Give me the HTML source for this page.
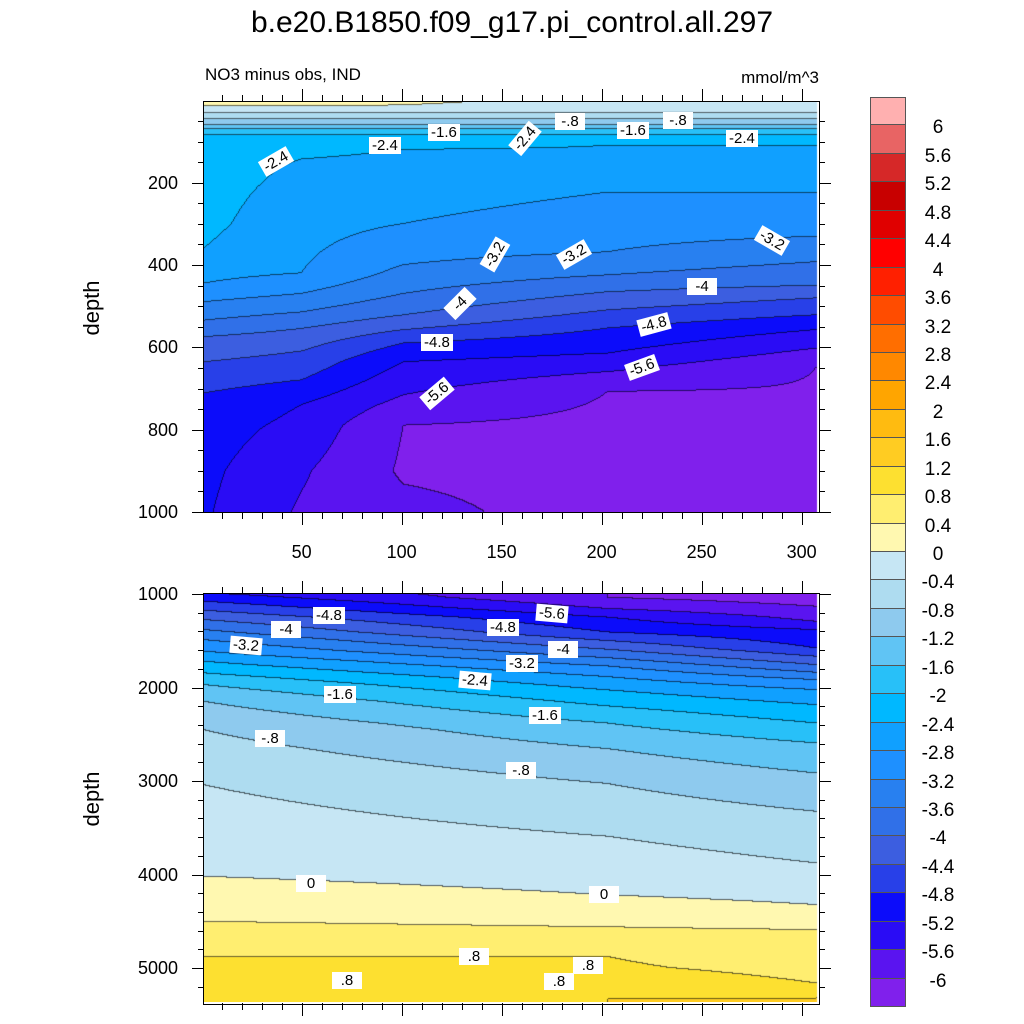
<!DOCTYPE html>
<html><head><meta charset="utf-8">
<style>
html,body{margin:0;padding:0;background:#fff;}
body{width:1024px;height:1024px;position:relative;overflow:hidden;font-family:"Liberation Sans",sans-serif;color:#000;}
.abs{position:absolute;}
.lbl{position:absolute;background:#fff;font-size:15px;line-height:17px;padding:0 3px;white-space:nowrap;transform-origin:center;}
.tick{position:absolute;background:#000;}
.tl{position:absolute;font-size:18px;line-height:18px;white-space:nowrap;}
canvas{position:absolute;}
</style></head>
<body>
<div class="abs" style="left:0;width:1024px;top:6px;text-align:center;font-size:30px;">b.e20.B1850.f09_g17.pi_control.all.297</div>
<div class="abs" style="left:205px;top:65px;font-size:17px;">NO3 minus obs, IND</div>
<div class="abs" style="left:700px;width:119px;text-align:right;top:68px;font-size:17px;">mmol/m^3</div>
<div class="abs" style="left:52px;top:295px;width:80px;text-align:center;font-size:22px;transform:rotate(-90deg);">depth</div>
<div class="abs" style="left:52px;top:786px;width:80px;text-align:center;font-size:22px;transform:rotate(-90deg);">depth</div>

<canvas id="cvTop" width="615" height="410" style="left:204px;top:102px;"></canvas>
<canvas id="cvBot" width="615" height="408" style="left:204px;top:594px;"></canvas>
<div class="abs" style="left:203px;top:101px;width:615px;height:410px;border:1px solid #000;"></div>
<div class="abs" style="left:203px;top:593px;width:615px;height:410px;border:1px solid #000;"></div>
<div id="axes"></div>
<div id="labels"></div>
<div id="cbar"></div>

<script>
// ---- data ----
var levels = [-6,-5.6,-5.2,-4.8,-4.4,-4,-3.6,-3.2,-2.8,-2.4,-2,-1.6,-1.2,-0.8,-0.4,0,0.4,0.8,1.2,1.6,2,2.4,2.8,3.2,3.6,4,4.4,4.8,5.2,5.6,6];
var levelLabels = ["-6","-5.6","-5.2","-4.8","-4.4","-4","-3.6","-3.2","-2.8","-2.4","-2","-1.6","-1.2","-0.8","-0.4","0","0.4","0.8","1.2","1.6","2","2.4","2.8","3.2","3.6","4","4.4","4.8","5.2","5.6","6"];
var fillColors = ["#8020ec","#5a14f0","#2a0cf5","#0c0cfa","#2840e8","#3c5ee0","#3070e8","#2880f0","#1e90ff","#10a0ff","#00b8ff","#28c0f8","#60c4f4","#8ecaee","#aedcf0","#c6e6f4","#fff8b0","#ffee70","#fde030","#ffcc22","#ffbb10","#ffa500","#ff8800","#ff6e00","#ff4c00","#ff2000","#ff0000","#e00000","#c80000","#d62828","#e86464","#ffb0b0"];

var topCols = [1, 50, 101, 203, 307];
var topDepths = [
 [4,14,30,45,60,70,85,110,160,224,300,360,445,490,535,575,636,712,800,900,1000],
 [4,14,30,45,60,70,85,110,160,224,300,420,470,515,555,610,680,740,800,900,1000],
 [4,12,30,45,60,70,85,120,300,400,470,522,558,590,636,716,790,900,1000],
 [3,30,45,60,70,85,110,224,369,425,466,510,554,615,660,708,800,1000],
 [3,30,45,60,70,85,110,224,331,393,450,481,522,558,603,651,800,1000]
];
var topValues = [
 [0.3,0,-0.4,-0.8,-1.2,-1.6,-2.0,-2.1,-2.2,-2.25,-2.3,-2.4,-2.8,-3.2,-3.6,-4.0,-4.4,-4.8,-5.0,-5.1,-5.15],
 [0.3,0,-0.4,-0.8,-1.2,-1.6,-2.0,-2.3,-2.45,-2.55,-2.65,-2.8,-3.2,-3.6,-4.0,-4.4,-4.8,-5.2,-5.35,-5.55,-5.65],
 [0.1,0,-0.4,-0.8,-1.2,-1.6,-2.0,-2.4,-2.8,-3.2,-3.6,-4.0,-4.4,-4.8,-5.2,-5.6,-6.0,-6.05,-5.9],
 [-0.2,-0.4,-0.8,-1.2,-1.6,-2.0,-2.4,-2.8,-3.2,-3.6,-4.0,-4.4,-4.8,-5.2,-5.6,-6.0,-6.1,-6.15],
 [-0.2,-0.4,-0.8,-1.2,-1.6,-2.0,-2.4,-2.8,-3.2,-3.6,-4.0,-4.4,-4.8,-5.2,-5.6,-6.0,-6.1,-6.15]
];

var botCols = [1, 203, 307];
var botDepths = [
 [993,1082,1178,1278,1385,1492,1617,1724,1848,1973,2152,2455,3043,4023,4505,4879,5360,5400],
 [1040,1160,1252,1411,1503,1595,1686,1774,1888,2030,2201,2385,2658,3031,3595,4223,4564,4879,5000,5336],
 [1000,1135,1296,1385,1581,1670,1759,1841,1920,2027,2187,2383,2597,2918,3328,3880,4326,4594,5164,5324]
];
var botValues = [
 [-5.2,-4.8,-4.4,-4.0,-3.6,-3.2,-2.8,-2.4,-2.0,-1.6,-1.2,-0.8,-0.4,0,0.4,0.8,1.2,1.25],
 [-6.0,-5.6,-5.2,-4.8,-4.4,-4.0,-3.6,-3.2,-2.8,-2.4,-2.0,-1.6,-1.2,-0.8,-0.4,0,0.4,0.8,0.85,1.2],
 [-6.3,-6.0,-5.6,-5.2,-4.8,-4.4,-4.0,-3.6,-3.2,-2.8,-2.4,-2.0,-1.6,-1.2,-0.8,-0.4,0,0.4,0.8,1.2]
];

var xTickVals = [50,100,150,200,250,300];
var topYTickVals = [200,400,600,800,1000];
var botYTickVals = [1000,2000,3000,4000,5000];

// ---- scales ----
function xPix(v){ return 201.6 + 2*v; }
function xInv(p){ return (p-201.6)/2; }
function yTop(d){ return 100.4 + 0.4116*d; }
function yTopInv(p){ return (p-100.4)/0.4116; }
function yBot(d){ return 594 + 0.0935*(d-1000); }
function yBotInv(p){ return 1000 + (p-594)/0.0935; }

function interp1(xs, ys, x){
  if (x<=xs[0]) return ys[0];
  for (var i=1;i<xs.length;i++){ if (x<=xs[i]){ var t=(x-xs[i-1])/(xs[i]-xs[i-1]); return ys[i-1]+t*(ys[i]-ys[i-1]); } }
  return ys[ys.length-1];
}
function field(cols, depths, values, x, d){
  var colv = [];
  for (var c=0;c<cols.length;c++) colv.push(interp1(depths[c], values[c], d));
  return interp1(cols, colv, x);
}
function binOf(v){ var b=0; for (var i=0;i<levels.length;i++){ if (v>=levels[i]) b=i+1; } return b; }
function hex(c){ return [parseInt(c.substr(1,2),16),parseInt(c.substr(3,2),16),parseInt(c.substr(5,2),16)]; }
var rgb = fillColors.map(hex);

function drawPanel(id, left, top, w, h, cols, depths, values, yInv, xMaxData){
  var cv=document.getElementById(id), ctx=cv.getContext('2d');
  var img=ctx.createImageData(w,h), bins=new Int16Array(w*h);
  for (var j=0;j<h;j++){ var d=yInv(top+j+0.5);
    for (var i=0;i<w;i++){ var x=xInv(left+i+0.5);
      bins[j*w+i] = (x>xMaxData) ? -1 : binOf(field(cols,depths,values,x,d)); } }
  for (var j=0;j<h;j++) for (var i=0;i<w;i++){
    var k=j*w+i, b=bins[k], p=k*4;
    if (b<0){ img.data[p]=255;img.data[p+1]=255;img.data[p+2]=255;img.data[p+3]=255; continue; }
    var c=rgb[b], line=false;
    if (i+1<w && bins[k+1]>=0 && bins[k+1]!==b) line=true;
    if (j+1<h && bins[k+w]>=0 && bins[k+w]!==b) line=true;
    var f=line?0.4:1;
    img.data[p]=c[0]*f; img.data[p+1]=c[1]*f; img.data[p+2]=c[2]*f; img.data[p+3]=255;
  }
  ctx.putImageData(img,0,0);
}
drawPanel('cvTop',204,102,615,410,topCols,topDepths,topValues,yTopInv,307.5);
drawPanel('cvBot',204,594,615,408,botCols,botDepths,botValues,yBotInv,307.5);

// ---- axes ----
var axes=document.getElementById('axes');
function tick(x,y,w,h,name){
  var t=document.createElement('div'); t.className='tick';
  t.style.left=x+'px'; t.style.top=y+'px'; t.style.width=w+'px'; t.style.height=h+'px';
  
  
  axes.appendChild(t);
}
function text(x,y,str,align,name){
  var t=document.createElement('div'); t.className='tl'; t.textContent=str;
  if (align==='right'){ t.style.left=(x-80)+'px'; t.style.width='80px'; t.style.textAlign='right'; }
  else { t.style.left=(x-40)+'px'; t.style.width='80px'; t.style.textAlign='center'; }
  t.style.top=(y-9)+'px';
  
  
  axes.appendChild(t);
}
[[102,512],[594,1003]].forEach(function(pr){
  for (var v=10; v<=300; v+=10){
    var px=Math.round(xPix(v)), major=(v%50===0), L=major?13:7;
    tick(px,pr[0]-L,1,L,'x-tick');
    tick(px,pr[1],1,L,'x-tick');
  }
});
xTickVals.forEach(function(v){ text(xPix(v),552,String(v),'center','x-tick-label'); });
for (var d=50; d<=1000; d+=50){
  var py=Math.round(yTop(d)), major=(d%200===0), L=major?12:6;
  tick(204-L,py,L,1,'y-tick'); tick(819,py,L,1,'y-tick');
}
topYTickVals.forEach(function(v){ text(178,yTop(v),String(v),'right','y-tick-label'); });
for (var d=1000; d<=5300; d+=200){
  var py=Math.round(yBot(d)), major=(d%1000===0), L=major?12:6;
  tick(204-L,py,L,1,'y-tick'); tick(819,py,L,1,'y-tick');
}
botYTickVals.forEach(function(v){ text(178,yBot(v),String(v),'right','y-tick-label'); });

// ---- colorbar ----
var cb=document.getElementById('cbar');
var boxH=(1007-97)/32;
for (var k=0;k<32;k++){
  var b=document.createElement('div');
  var idx=31-k;
  b.style.cssText='position:absolute;left:870px;width:36px;top:'+(97+k*boxH)+'px;height:'+boxH+'px;background:'+fillColors[idx]+';box-sizing:border-box;border:1px solid #555;border-top-width:'+(k===0?1:0)+'px;';
  
  
  cb.appendChild(b);
}
for (var k=0;k<levels.length;k++){
  var li=levels.length-1-k;
  var t=document.createElement('div'); t.className='tl'; t.textContent=levelLabels[li];
  t.style.cssText+='left:905px;width:66px;text-align:center;top:'+(97+(k+1)*boxH-6)+'px;font-size:19px;';
  
  
  cb.appendChild(t);
}

// ---- contour labels ----
var contourLabels = [
 ["-2.4",275,162,-30],["-2.4",384,146,0],["-1.6",443,133,0],["-2.4",524,139,-50],["-.8",570,122,0],["-1.6",632,131,0],["-.8",678,121,0],["-2.4",741,139,0],
 ["-3.2",494,255,-60],["-3.2",573,255,-30],["-3.2",771,241,30],["-4",460,304,-45],["-4",702,287,0],["-4.8",436,343,0],["-4.8",653,325,-15],["-5.6",641,368,-20],["-5.6",436,394,-40],
 ["-4.8",328,616,0],["-5.6",551,614,5],["-4",286,630,0],["-4.8",502,628,0],["-3.2",245,646,5],["-4",563,650,0],["-3.2",521,664,0],["-2.4",474,681,5],["-1.6",339,695,0],["-1.6",544,716,0],["-.8",270,739,0],["-.8",521,771,0],
 ["0",311,884,0],["0",604,895,0],[".8",474,957,0],[".8",588,966,0],[".8",347,981,0],[".8",559,982,0]
];
var lb=document.getElementById('labels');
contourLabels.forEach(function(c){
  var e=document.createElement('div'); e.className='lbl'; e.textContent=c[0];
  e.style.left=(c[1]-15)+'px'; e.style.top=(c[2]-9)+'px'; e.style.minWidth='24px'; e.style.textAlign='center';
  e.style.transform='rotate('+c[3]+'deg)';
  
  
  lb.appendChild(e);
});
</script>
</body></html>
